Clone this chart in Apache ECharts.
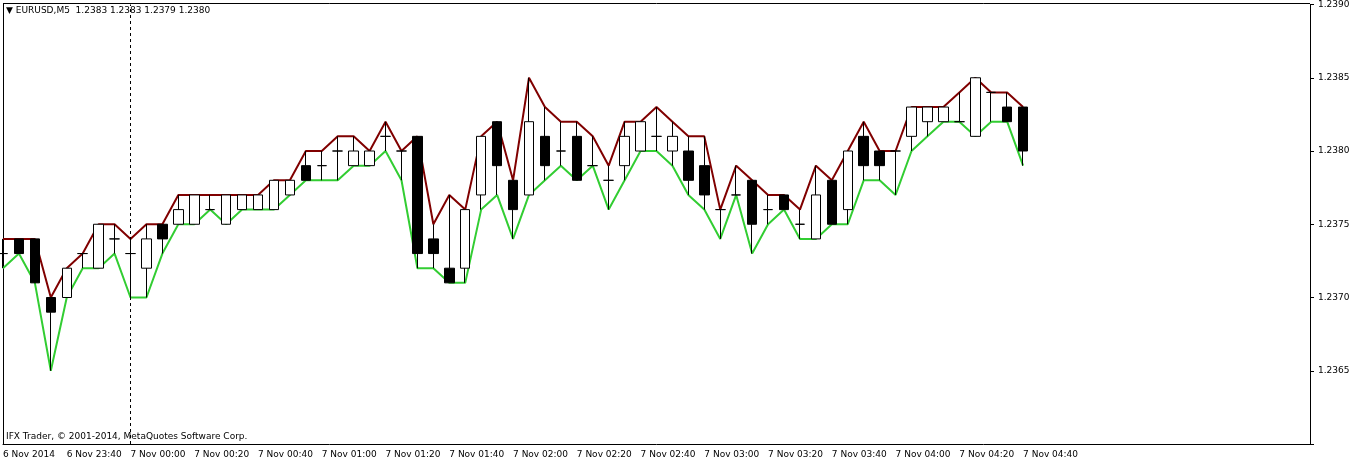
<!DOCTYPE html>
<html>
<head>
<meta charset="utf-8">
<script src="https://cdn.jsdelivr.net/npm/echarts@6/dist/echarts.min.js"></script>
<style>
  html, body { margin: 0; padding: 0; background: #fff; }
  #chart { width: 1356px; height: 464px; }
</style>
</head>
<body>
<div id="chart"></div>
<script>
// EURUSD M5, candles from 6 Nov 23:20 to 7 Nov 04:40
var opens  = [1.2373,1.2374,1.2374,1.2370,1.2370,1.2373,1.2372,1.2374,1.2373,1.2372,1.2375,1.2375,1.2375,1.2376,1.2375,1.2376,1.2376,
              1.2376,1.2377,1.2379,1.2379,1.2380,1.2379,1.2379,1.2381,1.2380,1.2381,1.2374,1.2372,1.2372,1.2377,1.2382,1.2378,
              1.2377,1.2381,1.2380,1.2381,1.2379,1.2378,1.2379,1.2380,1.2381,1.2380,1.2380,1.2379,1.2376,1.2377,1.2378,1.2376,
              1.2377,1.2375,1.2374,1.2378,1.2376,1.2381,1.2380,1.2380,1.2381,1.2382,1.2382,1.2382,1.2381,1.2384,1.2383,1.2383];
var closes = [1.2373,1.2373,1.2371,1.2369,1.2372,1.2373,1.2375,1.2374,1.2373,1.2374,1.2374,1.2376,1.2377,1.2376,1.2377,1.2377,1.2377,
              1.2378,1.2378,1.2378,1.2379,1.2380,1.2380,1.2380,1.2381,1.2380,1.2373,1.2373,1.2371,1.2376,1.2381,1.2379,1.2376,
              1.2382,1.2379,1.2380,1.2378,1.2379,1.2378,1.2381,1.2382,1.2381,1.2381,1.2378,1.2377,1.2376,1.2377,1.2375,1.2376,
              1.2376,1.2375,1.2377,1.2375,1.2380,1.2379,1.2379,1.2380,1.2383,1.2383,1.2383,1.2382,1.2385,1.2384,1.2382,1.2380];
var lows   = [1.2372,1.2373,1.2371,1.2365,1.2370,1.2372,1.2372,1.2373,1.2370,1.2370,1.2373,1.2375,1.2375,1.2376,1.2375,1.2376,1.2376,
              1.2376,1.2377,1.2378,1.2378,1.2378,1.2379,1.2379,1.2380,1.2378,1.2372,1.2372,1.2371,1.2371,1.2376,1.2377,1.2374,
              1.2377,1.2378,1.2379,1.2378,1.2379,1.2376,1.2378,1.2380,1.2380,1.2379,1.2377,1.2376,1.2374,1.2377,1.2373,1.2375,
              1.2376,1.2374,1.2374,1.2375,1.2375,1.2378,1.2378,1.2377,1.2380,1.2381,1.2382,1.2382,1.2381,1.2382,1.2382,1.2379];
var highs  = [1.2374,1.2374,1.2374,1.2370,1.2372,1.2373,1.2375,1.2375,1.2374,1.2375,1.2375,1.2377,1.2377,1.2377,1.2377,1.2377,1.2377,
              1.2378,1.2378,1.2380,1.2380,1.2381,1.2381,1.2380,1.2382,1.2380,1.2381,1.2375,1.2377,1.2376,1.2381,1.2382,1.2378,
              1.2385,1.2383,1.2382,1.2382,1.2381,1.2379,1.2382,1.2382,1.2383,1.2382,1.2381,1.2381,1.2376,1.2379,1.2378,1.2377,
              1.2377,1.2376,1.2379,1.2378,1.2380,1.2382,1.2380,1.2380,1.2383,1.2383,1.2383,1.2384,1.2385,1.2384,1.2384,1.2383];
var yTicks = [1.2360, 1.2365, 1.2370, 1.2375, 1.2380, 1.2385, 1.2390];
var lastPrice = 1.2380;
var totalSlots = 83;

function pad(n) { return (n < 10 ? '0' : '') + n; }
var cats = [];
for (var i = 0; i < totalSlots; i++) {
	if (i >= opens.length) { cats.push(' ' + i); continue; }
	var m = 23 * 60 + 20 + i * 5;
	var day = m >= 1440 ? 7 : 6;
	m = m % 1440;
	cats.push(i == 0 ? '6 Nov 2014' : day + ' Nov ' + pad(Math.floor(m / 60)) + ':' + pad(m % 60));
}
var candles = opens.map(function (o, i) { return [o, closes[i], lows[i], highs[i]]; });

var option = {
	animation: false,
	backgroundColor: '#fff',
	textStyle: { fontFamily: 'DejaVu Sans' },
	grid: { left: 3, right: 46, top: 3, bottom: 20 },
	xAxis: {
		type: 'category',
		data: cats,
		boundaryGap: false,
		axisLine: { lineStyle: { color: '#000' } },
		axisTick: { show: false },
		axisLabel: {
			interval: 3, align: 'left', margin: 6, color: '#000', fontSize: 9,
			formatter: function (v) { return v.charAt(0) == ' ' ? '' : v; }
		},
		splitLine: { show: false }
	},
	yAxis: {
		type: 'value',
		position: 'right',
		min: yTicks[0], max: yTicks[yTicks.length - 1], interval: 0.0005,
		axisLine: { show: true, lineStyle: { color: '#000' } },
		axisTick: { show: true, length: 4, lineStyle: { color: '#000' } },
		axisLabel: {
			color: '#000', fontSize: 9, margin: 8,
			formatter: function (v) { return Math.abs(v - yTicks[0]) < 1e-7 ? '' : v.toFixed(4); }
		},
		splitLine: { show: false }
	},
	graphic: [
		{ type: 'line', shape: { x1: 3.5, y1: 3, x2: 3.5, y2: 444 }, style: { stroke: '#000', lineWidth: 1 } },
		{ type: 'line', shape: { x1: 3, y1: 3.5, x2: 1310, y2: 3.5 }, style: { stroke: '#000', lineWidth: 1 } },
		{ type: 'text', left: 6, top: 6, style: { text: '\u25BC EURUSD,M5  1.2383 1.2383 1.2379 1.2380', font: '9px DejaVu Sans', fill: '#000' } },
		{ type: 'text', left: 6, top: 432, style: { text: 'IFX Trader, \u00A9 2001-2014, MetaQuotes Software Corp.', font: '9px DejaVu Sans', fill: '#000' } }
	],
	series: [
		{
			name: 'high', type: 'line', data: highs, symbol: 'none', z: 2,
			lineStyle: { color: '#800000', width: 2 }
		},
		{
			name: 'low', type: 'line', data: lows, symbol: 'none', z: 2,
			lineStyle: { color: '#32CD32', width: 2 }
		},
		{
			name: 'EURUSD', type: 'candlestick', data: candles, barWidth: 10, z: 3,
			itemStyle: { color: '#fff', color0: '#000', borderColor: '#000', borderColor0: '#000', borderWidth: 1 },
			markLine: {
				symbol: 'none', silent: true,
				data: [
					{ yAxis: lastPrice, lineStyle: { color: '#c0c0c0', type: 'solid', width: 1 },
					  label: { show: true, position: 'end', formatter: lastPrice.toFixed(4), color: '#fff', backgroundColor: '#000', padding: [2, 3], fontSize: 9, distance: 4 } },
					{ xAxis: cats[8], lineStyle: { color: '#000', type: [3, 3], width: 1 }, label: { show: false } }
				]
			}
		}
	]
};

var myChart = echarts.init(document.getElementById('chart'));
myChart.setOption(option);
</script>
</body>
</html>
